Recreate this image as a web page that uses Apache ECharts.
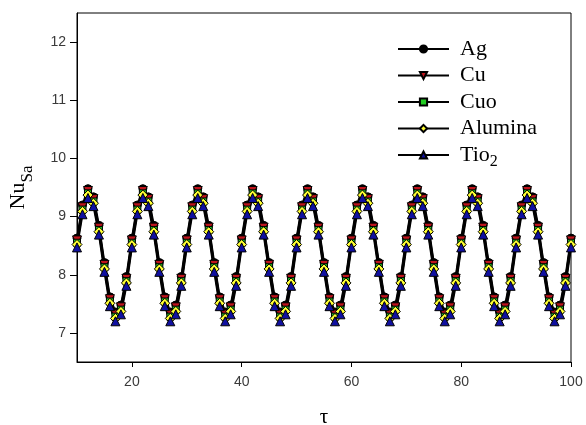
<!DOCTYPE html>
<html>
<head>
<meta charset="utf-8">
<script src="https://cdn.jsdelivr.net/npm/echarts@6/dist/echarts.min.js"></script>
<style>html,body{margin:0;padding:0;background:#fff}#c{width:586px;height:425px}</style>
</head>
<body>
<div id="c"></div>
<script>
var tau = [10,11,12,13,14,15,16,17,18,19,20,21,22,23,24,25,26,27,28,29,30,31,32,33,34,35,36,37,38,39,40,41,42,43,44,45,46,47,48,49,50,51,52,53,54,55,56,57,58,59,60,61,62,63,64,65,66,67,68,69,70,71,72,73,74,75,76,77,78,79,80,81,82,83,84,85,86,87,88,89,90,91,92,93,94,95,96,97,98,99,100];
var ag = [8.63,9.20,9.48,9.34,8.85,8.21,7.62,7.36,7.48,7.97, 8.63,9.20,9.48,9.34,8.85,8.21,7.62,7.36,7.48,7.97, 8.63,9.20,9.48,9.34,8.85,8.21,7.62,7.36,7.48,7.97, 8.63,9.20,9.48,9.34,8.85,8.21,7.62,7.36,7.48,7.97, 8.63,9.20,9.48,9.34,8.85,8.21,7.62,7.36,7.48,7.97, 8.63,9.20,9.48,9.34,8.85,8.21,7.62,7.36,7.48,7.97, 8.63,9.20,9.48,9.34,8.85,8.21,7.62,7.36,7.48,7.97, 8.63,9.20,9.48,9.34,8.85,8.21,7.62,7.36,7.48,7.97, 8.63,9.20,9.48,9.34,8.85,8.21,7.62,7.36,7.48,7.97, 8.63];
var cu = [8.59,9.16,9.44,9.30,8.81,8.17,7.58,7.32,7.44,7.93, 8.59,9.16,9.44,9.30,8.81,8.17,7.58,7.32,7.44,7.93, 8.59,9.16,9.44,9.30,8.81,8.17,7.58,7.32,7.44,7.93, 8.59,9.16,9.44,9.30,8.81,8.17,7.58,7.32,7.44,7.93, 8.59,9.16,9.44,9.30,8.81,8.17,7.58,7.32,7.44,7.93, 8.59,9.16,9.44,9.30,8.81,8.17,7.58,7.32,7.44,7.93, 8.59,9.16,9.44,9.30,8.81,8.17,7.58,7.32,7.44,7.93, 8.59,9.16,9.44,9.30,8.81,8.17,7.58,7.32,7.44,7.93, 8.59,9.16,9.44,9.30,8.81,8.17,7.58,7.32,7.44,7.93, 8.59];
var cuo = [8.55,9.12,9.40,9.26,8.77,8.13,7.54,7.28,7.40,7.89, 8.55,9.12,9.40,9.26,8.77,8.13,7.54,7.28,7.40,7.89, 8.55,9.12,9.40,9.26,8.77,8.13,7.54,7.28,7.40,7.89, 8.55,9.12,9.40,9.26,8.77,8.13,7.54,7.28,7.40,7.89, 8.55,9.12,9.40,9.26,8.77,8.13,7.54,7.28,7.40,7.89, 8.55,9.12,9.40,9.26,8.77,8.13,7.54,7.28,7.40,7.89, 8.55,9.12,9.40,9.26,8.77,8.13,7.54,7.28,7.40,7.89, 8.55,9.12,9.40,9.26,8.77,8.13,7.54,7.28,7.40,7.89, 8.55,9.12,9.40,9.26,8.77,8.13,7.54,7.28,7.40,7.89, 8.55];
var alumina = [8.52,9.09,9.37,9.23,8.74,8.10,7.51,7.25,7.37,7.86, 8.52,9.09,9.37,9.23,8.74,8.10,7.51,7.25,7.37,7.86, 8.52,9.09,9.37,9.23,8.74,8.10,7.51,7.25,7.37,7.86, 8.52,9.09,9.37,9.23,8.74,8.10,7.51,7.25,7.37,7.86, 8.52,9.09,9.37,9.23,8.74,8.10,7.51,7.25,7.37,7.86, 8.52,9.09,9.37,9.23,8.74,8.10,7.51,7.25,7.37,7.86, 8.52,9.09,9.37,9.23,8.74,8.10,7.51,7.25,7.37,7.86, 8.52,9.09,9.37,9.23,8.74,8.10,7.51,7.25,7.37,7.86, 8.52,9.09,9.37,9.23,8.74,8.10,7.51,7.25,7.37,7.86, 8.52];
var tio2 = [8.47,9.04,9.32,9.18,8.69,8.05,7.46,7.20,7.32,7.81, 8.47,9.04,9.32,9.18,8.69,8.05,7.46,7.20,7.32,7.81, 8.47,9.04,9.32,9.18,8.69,8.05,7.46,7.20,7.32,7.81, 8.47,9.04,9.32,9.18,8.69,8.05,7.46,7.20,7.32,7.81, 8.47,9.04,9.32,9.18,8.69,8.05,7.46,7.20,7.32,7.81, 8.47,9.04,9.32,9.18,8.69,8.05,7.46,7.20,7.32,7.81, 8.47,9.04,9.32,9.18,8.69,8.05,7.46,7.20,7.32,7.81, 8.47,9.04,9.32,9.18,8.69,8.05,7.46,7.20,7.32,7.81, 8.47,9.04,9.32,9.18,8.69,8.05,7.46,7.20,7.32,7.81, 8.47];
var seriesNames = ['Ag','Cu','Cuo','Alumina','Tio2'];
var xTicks = [20,40,60,80,100];
var yTicks = [7,8,9,10,11,12];

function pairs(ys){ return tau.map(function(t,i){ return [t, ys[i]]; }); }

var styles = [
  {symbol:'circle', size:8, color:'#000000', rotate:0},
  {symbol:'triangle', size:9, color:'#c0141c', rotate:180},
  {symbol:'rect', size:7, color:'#22cc22', rotate:0},
  {symbol:'diamond', size:10, color:'#ffff33', rotate:0},
  {symbol:'triangle', size:9, color:'#1010a0', rotate:0}
];
var dataSets = [ag, cu, cuo, alumina, tio2];

var chart = echarts.init(document.getElementById('c'), null, {renderer:'canvas'});
chart.setOption({
  animation:false,
  backgroundColor:'#ffffff',
  grid:{left:77, right:15, top:13, bottom:63, show:true, borderColor:'#000', borderWidth:1, backgroundColor:'transparent', outerBoundsMode:'none', containLabel:false},
  legend:{
    orient:'vertical', left:392, top:33, itemWidth:51, itemHeight:9, itemGap:4.5,
    data:seriesNames,
    formatter:function(n){ return n==='Tio2' ? '{n|Tio}{s|2}' : n; },
    textStyle:{fontFamily:'Liberation Serif', fontSize:22, color:'#000', lineHeight:22, padding:[0,0,0,6],
      rich:{
        n:{fontFamily:'Liberation Serif', fontSize:22, lineHeight:22, color:'#000'},
        s:{fontFamily:'Liberation Serif', fontSize:16, lineHeight:1, verticalAlign:'top', padding:[10,0,0,0], color:'#000'}
      }}
  },
  xAxis:{
    type:'value', min:10, max:100,
    name:'τ', nameLocation:'middle', nameGap:45,
    nameTextStyle:{fontFamily:'Liberation Serif', fontSize:21, color:'#000'},
    axisLine:{show:true, lineStyle:{color:'#000', width:1}},
    axisTick:{show:true, inside:false, length:5, customValues:xTicks, lineStyle:{color:'#000'}},
    axisLabel:{customValues:xTicks, fontFamily:'Liberation Sans', fontSize:14, color:'#3a3a3a', margin:13},
    splitLine:{show:false}
  },
  yAxis:{
    type:'value', min:6.5, max:12.5,
    name:'{n|Nu}{s|Sa}', nameLocation:'middle', nameGap:48, nameRotate:90,
    nameTextStyle:{fontFamily:'Liberation Serif', fontSize:22, color:'#000', lineHeight:22,
      rich:{
        n:{fontFamily:'Liberation Serif', fontSize:22, lineHeight:22, color:'#000'},
        s:{fontFamily:'Liberation Serif', fontSize:17, lineHeight:1, verticalAlign:'top', padding:[12,0,0,0], color:'#000'}
      }},
    axisLine:{show:true, lineStyle:{color:'#000', width:1}},
    axisTick:{show:true, inside:false, length:7, customValues:yTicks, lineStyle:{color:'#000'}},
    axisLabel:{customValues:yTicks, fontFamily:'Liberation Sans', fontSize:14, color:'#3a3a3a', margin:11},
    splitLine:{show:false}
  },
  series: seriesNames.map(function(n,i){
    var s = styles[i];
    return {
      name:n, type:'line', data:pairs(dataSets[i]),
      symbol:s.symbol, symbolSize:s.size, symbolRotate:s.rotate, showAllSymbol:true,
      lineStyle:{color:'#000', width:2},
      itemStyle:{color:s.color, borderColor:'#000', borderWidth:1},
      emphasis:{disabled:true}
    };
  })
});
</script>
</body>
</html>
